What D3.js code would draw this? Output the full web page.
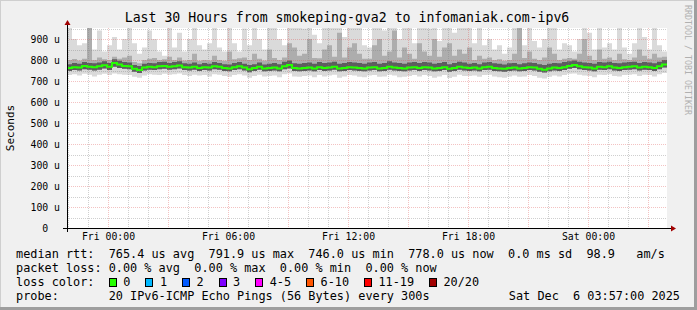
<!DOCTYPE html>
<html>
<head>
<meta charset="utf-8">
<script src="https://cdn.jsdelivr.net/npm/d3@7"></script>
<style>
  body { margin: 0; background: #f0f0f0; }
  svg text { font-family: "DejaVu Sans Mono", monospace; white-space: pre; }
</style>
</head>
<body>
<script>
// smokeping: last 30 hours, 15 minute buckets (120 of them)
var width = 697,
  height = 310,
  plot = { left: 67, top: 28, width: 600, height: 200 };

var startTime = Date.UTC(2025, 11, 4, 21, 57),
  endTime = Date.UTC(2025, 11, 6, 3, 57),
  stepMs = 15 * 60 * 1000;

// median rtt (us)
var medianUs = [
  762, 766, 764, 772, 768, 766, 770, 775, 768, 786,
  778, 772, 770, 758, 752, 764, 768, 766, 770, 772,
  768, 770, 774, 766, 764, 768, 762, 766, 764, 770,
  768, 762, 760, 766, 770, 764, 756, 762, 768, 760,
  762, 764, 760, 770, 776, 762, 760, 762, 764, 760,
  766, 762, 764, 768, 760, 762, 766, 764, 762, 760,
  764, 766, 760, 762, 768, 764, 762, 760, 764, 766,
  762, 766, 764, 760, 762, 766, 758, 762, 768, 764,
  762, 764, 760, 766, 768, 762, 760, 758, 762, 764,
  760, 762, 766, 764, 758, 754, 760, 764, 762, 766,
  772, 776, 770, 766, 764, 760, 768, 766, 770, 764,
  762, 766, 768, 770, 764, 768, 766, 762, 770, 778
];

// fastest ping (us)
var minUs = [
  728, 732, 726, 734, 730, 722, 730, 735, 728, 736,
  732, 730, 728, 720, 716, 726, 732, 730, 728, 734,
  730, 732, 736, 728, 724, 730, 726, 728, 722, 732,
  730, 724, 720, 728, 732, 726, 716, 724, 730, 722,
  724, 726, 718, 732, 736, 722, 720, 724, 726, 718,
  728, 722, 726, 730, 716, 722, 728, 726, 720, 718,
  726, 728, 720, 722, 730, 726, 718, 720, 724, 728,
  722, 728, 724, 716, 722, 728, 714, 720, 730, 724,
  724, 726, 720, 728, 730, 722, 718, 716, 722, 726,
  720, 722, 728, 724, 716, 712, 720, 726, 722, 728,
  734, 736, 730, 726, 724, 718, 730, 728, 732, 724,
  722, 728, 730, 732, 724, 730, 728, 722, 732, 738
];

// lower edge of dark smoke (us)
var lowUs = [
  748, 752, 750, 756, 754, 750, 754, 760, 752, 768,
  762, 758, 756, 744, 738, 750, 754, 752, 756, 758,
  754, 756, 760, 752, 750, 754, 748, 752, 750, 756,
  754, 748, 746, 752, 756, 750, 742, 748, 754, 746,
  748, 750, 746, 756, 760, 748, 746, 748, 750, 746,
  752, 748, 750, 754, 746, 748, 752, 750, 748, 746,
  750, 752, 746, 748, 754, 750, 748, 746, 750, 752,
  748, 752, 750, 746, 748, 752, 744, 748, 754, 750,
  748, 750, 746, 752, 754, 748, 746, 744, 748, 750,
  746, 748, 752, 750, 744, 740, 746, 750, 748, 752,
  758, 762, 756, 752, 750, 746, 754, 752, 756, 750,
  748, 752, 754, 756, 750, 754, 752, 748, 756, 764
];

// upper edge of dark smoke (us)
var highUs = [
  780, 786, 782, 790, 786, 784, 788, 794, 786, 804,
  796, 790, 788, 776, 772, 782, 786, 784, 790, 792,
  786, 790, 794, 784, 782, 788, 780, 786, 782, 790,
  786, 780, 778, 786, 790, 782, 776, 780, 788, 778,
  782, 786, 780, 792, 798, 784, 782, 786, 788, 782,
  790, 786, 788, 792, 782, 786, 790, 788, 786, 782,
  788, 790, 782, 786, 794, 788, 786, 782, 788, 790,
  786, 790, 788, 782, 786, 790, 780, 786, 792, 788,
  782, 786, 780, 788, 790, 784, 782, 778, 784, 786,
  780, 784, 788, 786, 780, 776, 782, 786, 784, 790,
  794, 798, 792, 788, 786, 782, 790, 788, 792, 786,
  784, 788, 790, 792, 786, 790, 788, 784, 792, 800
];

// upper edge of mid smoke (us)
var p90Us = [
  800, 805, 798, 806, 990, 800, 812, 804, 800, 815,
  806, 812, 820, 790, 785, 800, 806, 810, 800, 804,
  815, 800, 812, 798, 800, 830, 796, 800, 798, 820,
  800, 796, 840, 804, 808, 812, 800, 830, 806, 798,
  850, 810, 800, 812, 880, 860, 820, 830, 900, 810,
  808, 850, 870, 815, 930, 812, 860, 880, 830, 806,
  806, 870, 900, 820, 840, 940, 812, 860, 830, 806,
  880, 840, 820, 900, 815, 860, 880, 820, 850, 830,
  860, 800, 820, 806, 812, 800, 804, 796, 800, 830,
  990, 810, 840, 806, 800, 812, 860, 830, 800, 806,
  810, 806, 830, 900, 820, 800, 850, 806, 812, 800,
  830, 804, 800, 812, 850, 820, 806, 830, 812, 815
];

// slowest ping (us)
var maxUs = [
  960, 900, 870, 880, 990, 850, 940, 840, 870, 910,
  850, 900, 990, 880, 830, 860, 940, 900, 840, 820,
  990, 860, 930, 840, 900, 990, 870, 850, 880, 990,
  860, 840, 990, 880, 840, 950, 870, 990, 900, 850,
  990, 960, 900, 870, 990, 990, 960, 950, 990, 920,
  880, 990, 990, 960, 990, 910, 990, 990, 960, 870,
  860, 990, 990, 940, 990, 990, 900, 990, 970, 880,
  990, 990, 950, 990, 890, 990, 990, 930, 990, 960,
  990, 880, 960, 870, 900, 850, 870, 830, 860, 990,
  990, 870, 990, 890, 860, 900, 990, 960, 850, 880,
  870, 840, 900, 990, 930, 850, 990, 860, 880, 850,
  990, 860, 830, 880, 990, 910, 850, 960, 870, 840
];

var yTicks = [0, 100, 200, 300, 400, 500, 600, 700, 800, 900];
var lossLabels = ["0", "1", "2", "3", "4-5", "6-10", "11-19", "20/20"];
var lossColors = ["#26ff00", "#00b8ff", "#0059ff", "#7e00ff", "#ff00ff", "#ff5500", "#ff0000", "#a10000"];

var legendLines = [
  "median rtt:  765.4 us avg  791.9 us max  746.0 us min  778.0 us now  0.0 ms sd  98.9   am/s",
  "packet loss: 0.00 % avg  0.00 % max  0.00 % min  0.00 % now",
  "loss color:",
  "probe:       20 IPv6-ICMP Echo Pings (56 Bytes) every 300s"
];

var rows = medianUs.map(function (d, i) {
  return { t: new Date(startTime + i * stepMs), med: d, min: minUs[i], lo: lowUs[i],
    hi: highUs[i], p90: p90Us[i], max: maxUs[i] };
});
// close the last step at the right edge
rows.push(Object.assign({}, rows[rows.length - 1], { t: new Date(endTime) }));

var svg = d3.select("body")
  .append("svg")
  .attr("width", width)
  .attr("height", height);

//----------frame----------
svg.append("rect").attr("width", width).attr("height", height).attr("fill", "#f0f0f0");
svg.append("path").attr("d", "M0,0.5H697M0.5,0V310").attr("stroke", "#cfcfcf").attr("stroke-width", 1);
svg.append("rect").attr("x", 694).attr("y", 0).attr("width", 3).attr("height", height).attr("fill", "#9e9e9e");
svg.append("rect").attr("x", 0).attr("y", 307).attr("width", width).attr("height", 3).attr("fill", "#9e9e9e");

svg.append("rect")
  .attr("x", plot.left).attr("y", plot.top)
  .attr("width", plot.width).attr("height", plot.height)
  .attr("fill", "#ffffff");

//----------scales----------
var xScale = d3.scaleTime()
  .domain([new Date(startTime), new Date(endTime)])
  .range([plot.left, plot.left + plot.width]);

var yScale = d3.scaleLinear()
  .domain([0, 952.4])
  .range([plot.top + plot.height, plot.top]);

//----------smoke----------
svg.append("clipPath").attr("id", "clip")
  .append("rect")
  .attr("x", plot.left).attr("y", plot.top)
  .attr("width", plot.width).attr("height", plot.height);

var smoke = svg.append("g").attr("clip-path", "url(#clip)");

function band(lo, hi) {
  return d3.area()
    .curve(d3.curveStepAfter)
    .x(function (d) { return xScale(d.t); })
    .y0(function (d) { return yScale(d[lo]); })
    .y1(function (d) { return yScale(d[hi]); });
}

smoke.append("path").datum(rows).attr("d", band("min", "max")).attr("fill", "#dadada");
smoke.append("path").datum(rows).attr("d", band("lo", "p90")).attr("fill", "#adadad");
smoke.append("path").datum(rows).attr("d", band("lo", "hi")).attr("fill", "#5e5e5e");

//----------grid (drawn over the smoke, like rrdtool)----------
var grid = svg.append("g").attr("shape-rendering", "crispEdges");
d3.range(50, 951, 50).forEach(function (v) {
  var major = v % 100 === 0;
  grid.append("line")
    .attr("x1", plot.left).attr("x2", plot.left + plot.width)
    .attr("y1", Math.round(yScale(v)) + 0.5).attr("y2", Math.round(yScale(v)) + 0.5)
    .attr("stroke", major ? "rgba(222,80,80,0.35)" : "rgba(130,130,130,0.38)")
    .attr("stroke-dasharray", "1,1");
});
d3.utcHour.range(new Date(startTime), new Date(endTime)).forEach(function (h) {
  var major = h.getUTCHours() % 3 === 0;
  var x = Math.round(xScale(h)) + 0.5;
  grid.append("line")
    .attr("x1", x).attr("x2", x)
    .attr("y1", plot.top).attr("y2", plot.top + plot.height)
    .attr("stroke", major ? "rgba(222,80,80,0.35)" : "rgba(130,130,130,0.38)")
    .attr("stroke-dasharray", "1,1");
});

//----------median----------
svg.append("path")
  .datum(rows)
  .attr("clip-path", "url(#clip)")
  .attr("d", d3.line()
    .curve(d3.curveStepAfter)
    .x(function (d) { return xScale(d.t); })
    .y(function (d) { return yScale(d.med); }))
  .attr("fill", "none")
  .attr("stroke", lossColors[0])
  .attr("stroke-width", 2);

//----------axes----------
var yAxis = d3.axisLeft(yScale)
  .tickValues(yTicks)
  .tickSize(0)
  .tickPadding(7)
  .tickFormat(function (d) { return d === 0 ? "0  " : d + " u"; });

svg.append("g")
  .attr("transform", "translate(" + plot.left + ",0)")
  .call(yAxis)
  .call(function (g) { g.select(".domain").remove(); })
  .selectAll("text")
  .attr("font-family", "DejaVu Sans Mono")
  .attr("font-size", 9.8)
  .attr("fill", "#000");

var xAxis = d3.axisBottom(xScale)
  .tickValues(d3.utcHour.every(6).range(new Date(startTime), new Date(endTime)))
  .tickSize(0)
  .tickPadding(5)
  .tickFormat(d3.utcFormat("%a %H:%M"));

svg.append("g")
  .attr("transform", "translate(0," + (plot.top + plot.height) + ")")
  .call(xAxis)
  .call(function (g) { g.select(".domain").remove(); })
  .selectAll("text")
  .attr("font-family", "DejaVu Sans Mono")
  .attr("font-size", 9.8)
  .attr("fill", "#000");

svg.append("path")
  .attr("d", "M63,228.5H671M67.5,232V25")
  .attr("stroke", "#000")
  .attr("fill", "none");
svg.append("path").attr("d", "M671,225.5L676,228.5L671,231.5Z").attr("fill", "#a10000");
svg.append("path").attr("d", "M64.5,25L67.5,20L70.5,25Z").attr("fill", "#a10000");

//----------labels----------
svg.append("text")
  .attr("x", 347)
  .attr("y", 22)
  .attr("text-anchor", "middle")
  .attr("font-size", 13.2)
  .text("Last 30 Hours from smokeping-gva2 to infomaniak.com-ipv6");

svg.append("text")
  .attr("transform", "translate(14,128) rotate(-90)")
  .attr("text-anchor", "middle")
  .attr("font-size", 11)
  .text("Seconds");

svg.append("text")
  .attr("transform", "translate(685,5) rotate(90)")
  .attr("font-size", 8.3)
  .attr("fill", "#b0b0b0")
  .text("RRDTOOL / TOBI OETIKER");

//----------legend----------
var legend = svg.append("g").attr("font-size", 11.85);
legend.selectAll("text.row")
  .data(legendLines)
  .enter()
  .append("text")
  .attr("class", "row")
  .attr("x", 16)
  .attr("y", function (d, i) { return 258 + i * 14; })
  .text(function (d) { return d; });

legend.append("text")
  .attr("x", 680)
  .attr("y", 300)
  .attr("text-anchor", "end")
  .text("Sat Dec  6 03:57:00 2025");

var bx = 108.7;
lossLabels.forEach(function (lab, i) {
  legend.append("rect")
    .attr("x", Math.round(bx) + 0.5).attr("y", 278.5)
    .attr("width", 7).attr("height", 8)
    .attr("fill", lossColors[i])
    .attr("stroke", "#000");
  legend.append("text")
    .attr("x", bx + 14.6)
    .attr("y", 286)
    .text(lab);
  bx = bx + 14.6 + lab.length * 7.1 + 14.9;
});
</script>
</body>
</html>
